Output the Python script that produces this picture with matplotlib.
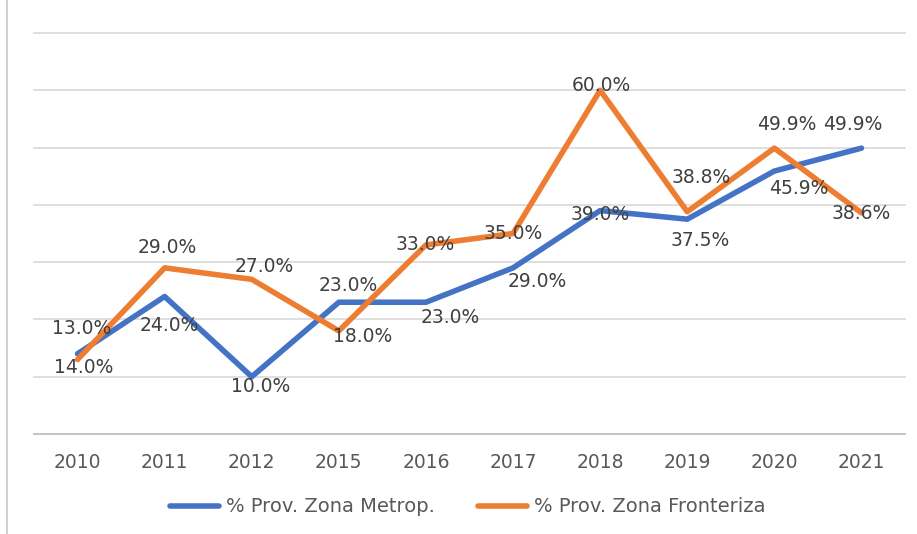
import matplotlib
matplotlib.use("Agg")
import matplotlib.pyplot as plt
from matplotlib.lines import Line2D

years = ["2010", "2011", "2012", "2015", "2016", "2017", "2018", "2019", "2020", "2021"]
metrop = [14.0, 24.0, 10.0, 23.0, 23.0, 29.0, 39.0, 37.5, 45.9, 49.9]
fronteriza = [13.0, 29.0, 27.0, 18.0, 33.0, 35.0, 60.0, 38.8, 49.9, 38.6]
series_names = ["% Prov. Zona Metrop.", "% Prov. Zona Fronteriza"]

# label offsets in pixels (dx, dy-up)
off_metrop = [(6, -14), (5, -29), (9, -10), (9, 17), (24, -15), (24, -14),
              (0, -4), (13, -21), (24, -17), (-9, 24)]
off_front = [(4, 31), (3, 20), (13, 13), (24, -6), (-1, 0), (0, 0),
             (1, 5), (14, 34), (12, 24), (0, -1)]

BLUE = "#4472C4"
ORANGE = "#ED7D31"
TXT = "#404040"

fig = plt.figure(figsize=(9.17, 5.34), dpi=100)
ax = fig.add_axes([34 / 917, 1 - 434 / 534, (905 - 34) / 917, (434 - 33) / 534])

x = list(range(len(years)))
ax.plot(x, metrop, color=BLUE, lw=4.0, solid_capstyle="round", solid_joinstyle="round",
        label=series_names[0], zorder=3)
ax.plot(x, fronteriza, color=ORANGE, lw=4.0, solid_capstyle="round", solid_joinstyle="round",
        label=series_names[1], zorder=4)

for xi, v, (dx, dy) in zip(x, metrop, off_metrop):
    ax.annotate(f"{v:.1f}%", (xi, v), xytext=(dx, dy), textcoords="offset pixels",
                ha="center", va="center", fontsize=13.5, color=TXT, zorder=6)
for xi, v, (dx, dy) in zip(x, fronteriza, off_front):
    ax.annotate(f"{v:.1f}%", (xi, v), xytext=(dx, dy), textcoords="offset pixels",
                ha="center", va="center", fontsize=13.5, color=TXT, zorder=6)

ax.set_xlim(-0.5, len(years) - 0.5)
ax.set_ylim(0, 70)
ax.set_yticks(range(0, 71, 10))
ax.set_yticklabels([])
ax.tick_params(axis="y", length=0)
ax.set_xticks(x)
ax.set_xticklabels(years, fontsize=13.5, color="#595959")
ax.tick_params(axis="x", length=0, pad=14)
ax.grid(axis="y", color="#D9D9D9", lw=1.2)
for gl in ax.get_ygridlines():
    gl.set_clip_on(False)
for s in ["top", "right", "left"]:
    ax.spines[s].set_visible(False)
ax.spines["bottom"].set_color("#BFBFBF")
ax.spines["bottom"].set_linewidth(1.2)

fig.legend(loc="center", bbox_to_anchor=(468 / 917, 1 - 507 / 534), ncol=2, frameon=False,
           fontsize=14, handlelength=2.5, handletextpad=0.4, columnspacing=2.2,
           labelcolor="#595959")

fig.add_artist(Line2D([7 / 917, 7 / 917], [0, 1], color="#C8C8C8", lw=1.2,
                      transform=fig.transFigure))

fig.savefig("out.png", dpi=100, facecolor="white")
